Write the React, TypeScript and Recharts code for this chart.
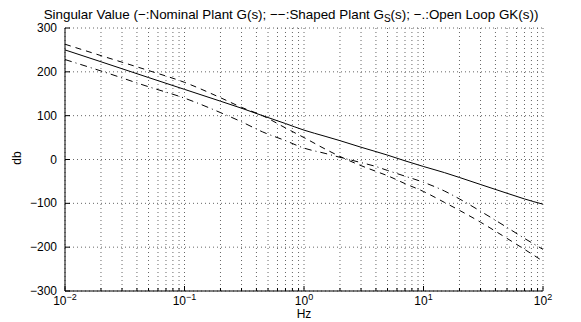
import React from 'react';
import { LineChart, Line, XAxis, YAxis, CartesianGrid } from 'recharts';

// frequency points (Hz) and singular values (db)
const freq = [0.01, 0.02, 0.05, 0.1, 0.2, 0.3, 0.45, 0.7, 1, 1.5, 2, 3, 4, 5, 7, 10, 15, 20, 30, 50, 70, 100];
const nominal = [250, 223, 187, 160, 133, 117, 100, 82, 67, 53, 43, 28, 18, 10, -3, -16, -30, -41, -57, -77, -90, -102];
const shaped = [263, 237, 203, 176, 141, 119, 100, 72, 50, 24, 7, -14, -27, -37, -55, -73, -98, -116, -143, -180, -205, -232];
const openLoop = [228, 202, 166, 140, 107, 86, 63, 43, 26, 14, 5, -7, -16, -25, -38, -52, -72, -90, -118, -155, -180, -205];

const xMajor = [0.01, 0.1, 1, 10, 100];
const xExp = ['\u22122', '\u22121', '0', '1', '2'];
const minorSteps = [2, 3, 4, 5, 6, 7, 8, 9];
const yTicks = [-300, -200, -100, 0, 100, 200, 300];

const xTicks: number[] = [];
xMajor.forEach((d, i) => {
  xTicks.push(d);
  if (i < xMajor.length - 1) minorSteps.forEach((k) => xTicks.push(d * k));
});

const data = freq.map((f, i) => ({
  f,
  nominal: nominal[i],
  shaped: shaped[i],
  openLoop: openLoop[i],
}));

const FONT = '"Liberation Sans", Arial, Helvetica, sans-serif';
const GAP = 4;

const fmtY = (v: number) => (v < 0 ? '\u2212' + Math.abs(v) : String(v));

function BottomTick(props: any) {
  const { x, y, payload } = props;
  const idx = xMajor.indexOf(payload.value);
  const axisY = y - GAP;
  return (
    <g>
      <line x1={x} x2={x} y1={axisY} y2={axisY - (idx >= 0 ? 5 : 3)} stroke="#000" />
      {idx >= 0 && (
        <text x={x} y={axisY + 14} textAnchor="middle" fontSize={12} fontFamily={FONT} fill="#000">
          10<tspan dy={-5} fontSize={9}>{xExp[idx]}</tspan>
        </text>
      )}
    </g>
  );
}

function TopTick(props: any) {
  const { x, y, payload } = props;
  const major = xMajor.indexOf(payload.value) >= 0;
  const axisY = y + GAP;
  return <line x1={x} x2={x} y1={axisY} y2={axisY + (major ? 5 : 3)} stroke="#000" />;
}

function LeftTick(props: any) {
  const { x, y, payload } = props;
  const axisX = x + GAP;
  return (
    <g>
      <line x1={axisX} x2={axisX + 5} y1={y} y2={y} stroke="#000" />
      <text x={axisX - 8} y={y} dy={4} textAnchor="end" fontSize={12} fontFamily={FONT} fill="#000">
        {fmtY(payload.value)}
      </text>
    </g>
  );
}

function RightTick(props: any) {
  const { x, y } = props;
  const axisX = x - GAP;
  return <line x1={axisX} x2={axisX - 5} y1={y} y2={y} stroke="#000" />;
}

export default function App() {
  return (
    <div style={{ position: 'absolute', left: 0, top: 0, width: 581, height: 322, background: '#fff', fontFamily: FONT }}>
      <LineChart width={581} height={322} data={data} margin={{ top: 28, right: 38, bottom: 0, left: 0 }}>
        <CartesianGrid stroke="#666" strokeDasharray="1 3" />
        <XAxis
          dataKey="f"
          type="number"
          scale="log"
          domain={[0.01, 100]}
          allowDataOverflow
          ticks={xTicks}
          interval={0}
          height={31}
          tickSize={0}
          tickMargin={GAP}
          tickLine={false}
          axisLine={{ stroke: '#000' }}
          tick={<BottomTick />}
        />
        <XAxis
          xAxisId="top"
          orientation="top"
          dataKey="f"
          type="number"
          scale="log"
          domain={[0.01, 100]}
          allowDataOverflow
          ticks={xTicks}
          interval={0}
          height={0}
          tickSize={0}
          tickMargin={GAP}
          tickLine={false}
          axisLine={{ stroke: '#000' }}
          tick={<TopTick />}
        />
        <YAxis
          type="number"
          domain={[-300, 300]}
          ticks={yTicks}
          interval={0}
          width={65}
          tickSize={0}
          tickMargin={GAP}
          tickLine={false}
          axisLine={{ stroke: '#000' }}
          tick={<LeftTick />}
        />
        <YAxis
          yAxisId="right"
          orientation="right"
          type="number"
          domain={[-300, 300]}
          ticks={yTicks}
          interval={0}
          width={0}
          tickSize={0}
          tickMargin={GAP}
          tickLine={false}
          axisLine={{ stroke: '#000' }}
          tick={<RightTick />}
        />
        <Line type="monotone" dataKey="nominal" stroke="#000" strokeWidth={1} dot={false} activeDot={false} isAnimationActive={false} />
        <Line type="monotone" dataKey="shaped" stroke="#000" strokeWidth={1} strokeDasharray="6 5" dot={false} activeDot={false} isAnimationActive={false} />
        <Line type="monotone" dataKey="openLoop" stroke="#000" strokeWidth={1} strokeDasharray="7 4 1 4" dot={false} activeDot={false} isAnimationActive={false} />
      </LineChart>
      <svg width={581} height={322} style={{ position: 'absolute', left: 0, top: 0, pointerEvents: 'none' }}>
        <text x={291} y={19} textAnchor="middle" fontSize={13.4} fontFamily={FONT} fill="#000">
          Singular Value ({'\u2212'}:Nominal Plant G(s); {'\u2212\u2212'}:Shaped Plant G
          <tspan dy={3} fontSize={10}>S</tspan>
          <tspan dy={-3}>(s); {'\u2212'}.:Open Loop GK(s))</tspan>
        </text>
        <text x={304} y={318} textAnchor="middle" fontSize={12} fontFamily={FONT} fill="#000">
          Hz
        </text>
        <text x={21} y={158} textAnchor="middle" fontSize={12} fontFamily={FONT} fill="#000" transform="rotate(-90 21 158)">
          db
        </text>
      </svg>
    </div>
  );
}
